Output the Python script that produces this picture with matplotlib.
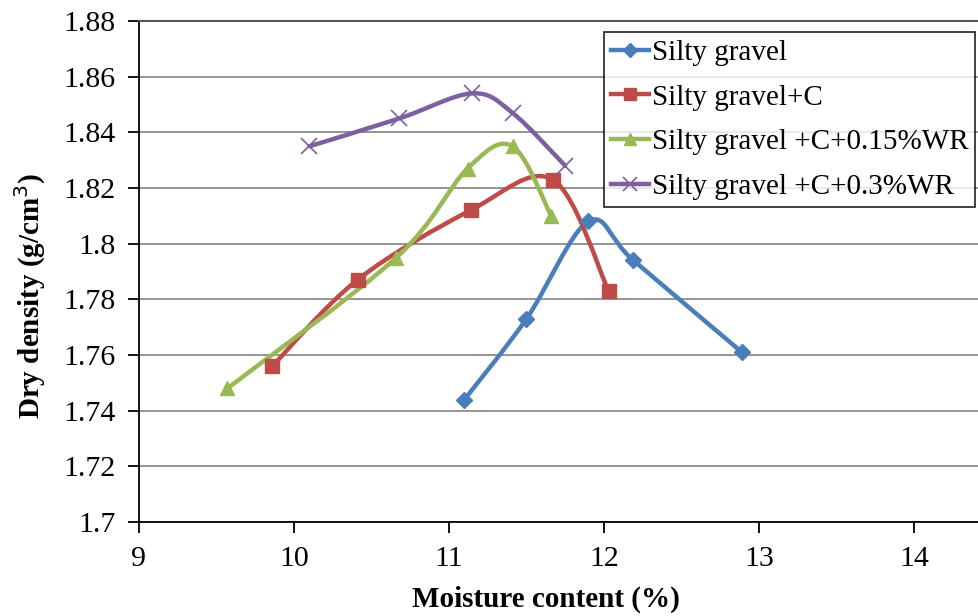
import matplotlib
matplotlib.use("Agg")
import matplotlib.pyplot as plt
import numpy as np
from matplotlib.path import Path
from matplotlib.patches import PathPatch
from matplotlib.lines import Line2D

plt.rcParams['font.family'] = ['Liberation Serif', 'DejaVu Serif']

# ---- data ----
labels = ["Silty gravel", "Silty gravel+C",
          "Silty gravel +C+0.15%WR", "Silty gravel +C+0.3%WR"]
x_sg = [11.1, 11.5, 11.9, 12.19, 12.89]
y_sg = [1.744, 1.773, 1.808, 1.794, 1.761]
x_sgc = [9.86, 10.41, 11.14, 11.67, 12.03]
y_sgc = [1.756, 1.787, 1.812, 1.823, 1.783]
x_015 = [9.57, 10.66, 11.12, 11.41, 11.66]
y_015 = [1.748, 1.795, 1.827, 1.835, 1.810]
x_03 = [10.10, 10.68, 11.15, 11.41, 11.75]
y_03 = [1.835, 1.845, 1.854, 1.847, 1.828]
xticks = [9, 10, 11, 12, 13, 14]
yticks = [1.70, 1.72, 1.74, 1.76, 1.78, 1.80, 1.82, 1.84, 1.86, 1.88]
ytick_labels = ["1.7", "1.72", "1.74", "1.76", "1.78", "1.8", "1.82", "1.84", "1.86", "1.88"]

colors = ["#4A7EBB", "#BE4B48", "#98B954", "#7D60A0"]
markers = ["D", "s", "^", "x"]
msizes = [8, 10, 10, 11]

W, H = 979, 616
fig = plt.figure(figsize=(W / 100, H / 100), dpi=100)
ax = fig.add_axes([139 / W, 1 - 522 / H, 1 - 139 / W, (522 - 21) / H])
XMIN, XMAX = 9, 14.42
YMIN, YMAX = 1.70, 1.88
ax.set_xlim(XMIN, XMAX)
ax.set_ylim(YMIN, YMAX)

axw, axh = 840.0, 501.0


def smooth_path(xs, ys):
    xs = np.asarray(xs, float)
    ys = np.asarray(ys, float)
    u = (xs - XMIN) / (XMAX - XMIN) * axw
    v = (ys - YMIN) / (YMAX - YMIN) * axh
    P = np.column_stack([u, v])
    n = len(P)
    verts = [P[0]]
    codes = [Path.MOVETO]
    for i in range(n - 1):
        pm = P[i - 1] if i > 0 else P[i]
        pp = P[i + 2] if i + 2 < n else P[i + 1]
        c1 = P[i] + (P[i + 1] - pm) / 6.0
        c2 = P[i + 1] - (pp - P[i]) / 6.0
        verts += [c1, c2, P[i + 1]]
        codes += [Path.CURVE4] * 3
    verts = np.array(verts)
    dx = verts[:, 0] / axw * (XMAX - XMIN) + XMIN
    dy = verts[:, 1] / axh * (YMAX - YMIN) + YMIN
    return Path(np.column_stack([dx, dy]), codes)


series = [(x_sg, y_sg), (x_sgc, y_sgc), (x_015, y_015), (x_03, y_03)]
for (xs, ys), c, m, ms in zip(series, colors, markers, msizes):
    ax.add_patch(PathPatch(smooth_path(xs, ys), fill=False, edgecolor=c,
                           linewidth=3.2, capstyle='round', joinstyle='round', zorder=3))
    if m == "x":
        ax.plot(xs, ys, linestyle='none', marker=m, markersize=ms, color=c,
                markeredgewidth=1.2, zorder=4)
    else:
        ax.plot(xs, ys, linestyle='none', marker=m, markersize=ms, color=c,
                markeredgecolor=c, zorder=4)

# grid
ax.set_yticks(yticks)
ax.set_yticklabels(ytick_labels)
ax.set_xticks(xticks)
ax.yaxis.grid(True, color="#8C8C8C", linewidth=1.3)
ax.set_axisbelow(True)
ax.spines["right"].set_visible(False)
ax.spines["top"].set_color("#555555")
ax.spines["top"].set_linewidth(1.5)
ax.spines["left"].set_linewidth(1.3)
ax.spines["bottom"].set_linewidth(1.3)
ax.tick_params(axis='both', direction='out', length=8, width=1.3,
               labelsize=21.5, colors='black')
ax.tick_params(axis='y', pad=9)
ax.tick_params(axis='x', pad=9)

ax.set_xlabel("Moisture content (%)", fontsize=21, fontweight='bold')
ax.xaxis.set_label_coords(0.485, -0.128)
ax.set_ylabel("Dry density (g/cm$^{3}$)", fontsize=21, fontweight='bold')
ax.yaxis.set_label_coords(-0.108, 0.452)

handles = [Line2D([0], [0], color=c, marker=m, markersize=ms * 0.9, linewidth=3.2,
                  markeredgewidth=(1.2 if m == "x" else 1.0))
           for c, m, ms in zip(colors, markers, msizes)]
leg = ax.legend(handles, labels, loc='upper left',
                bbox_to_anchor=(604 / W, 1 - 32 / H), bbox_transform=fig.transFigure,
                fontsize=21, frameon=True, fancybox=False, handlelength=1.3,
                handletextpad=0.08, borderpad=0.25, labelspacing=0.63, borderaxespad=0)
leg.get_frame().set_edgecolor('black')
leg.get_frame().set_linewidth(1.3)

fig.savefig("out.png", dpi=100)
